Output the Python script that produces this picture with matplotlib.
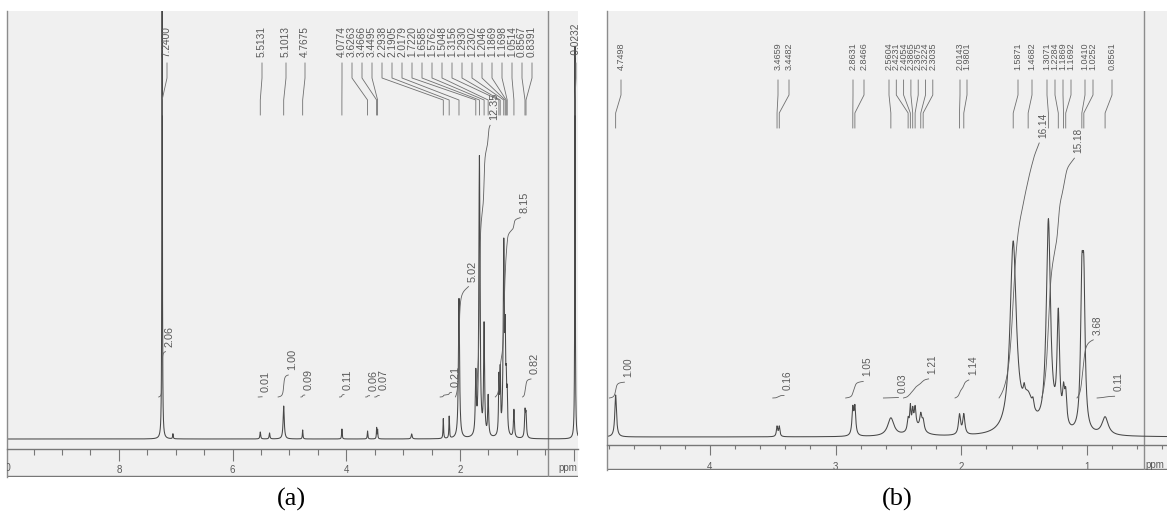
import numpy as np
import matplotlib
matplotlib.use("Agg")
import matplotlib.pyplot as plt
from matplotlib.ticker import MultipleLocator, FuncFormatter

# ---------------- data: panel (a) ----------------
a_peak_ppm = [7.2400, 7.05, 5.5131, 5.35, 5.1013, 4.7675, 4.0774, 3.6263, 3.4666, 3.4495,
              2.85, 2.2938, 2.1905, 2.0179, 1.7220, 1.6585, 1.5762, 1.5048, 1.3156, 1.2930,
              1.2302, 1.2046, 1.1869, 1.1698, 1.0514, 0.8567, 0.8391, -0.0232]
a_peak_height = [700, 5, 7, 6, 33, 9, 10, 8, 11, 9,
                 5, 20, 22, 140, 60, 280, 110, 40, 55, 60,
                 190, 80, 40, 35, 28, 25, 22, 394]
a_peak_width = [0.004, 0.006, 0.008, 0.008, 0.012, 0.006, 0.006, 0.006, 0.005, 0.005,
                0.01, 0.006, 0.006, 0.012, 0.01, 0.012, 0.01, 0.01, 0.008, 0.008,
                0.012, 0.008, 0.008, 0.008, 0.01, 0.01, 0.01, 0.005]

a_label_ppm = [7.2400, 5.5131, 5.1013, 4.7675,
               4.0774, 3.6263, 3.4666, 3.4495, 2.2938, 2.1905, 2.0179, 1.7220, 1.6585, 1.5762,
               1.5048, 1.3156, 1.2930, 1.2302, 1.2046, 1.1869, 1.1698, 1.0514, 0.8567, 0.8391,
               -0.0232]

a_int_values = [2.06, 0.01, 1.00, 0.09, 0.11, 0.06, 0.07, 0.21, 5.02, 12.35, 8.15, 0.82]
a_int_ranges = [(7.30, 7.18), (5.55, 5.48), (5.20, 5.02), (4.80, 4.73), (4.12, 4.04),
                (3.66, 3.59), (3.50, 3.42), (2.35, 2.15), (2.08, 1.85), (1.72, 1.47),
                (1.38, 0.94), (0.90, 0.75)]

a_tick_labels = [2, 4, 6, 8]

# ---------------- data: panel (b) ----------------
b_peak_ppm = [4.7498, 3.4659, 3.4482, 2.8631, 2.8466, 2.5604, 2.4231, 2.4054, 2.3865, 2.3675,
              2.3224, 2.3035, 2.36, 2.0143, 1.9801, 1.5871, 1.4682, 1.50, 1.43, 1.3071,
              1.2284, 1.1869, 1.1692, 1.0410, 1.0252, 0.8561]
b_peak_height = [42, 10, 10, 26, 27, 18, 12, 22, 17, 19,
                 15, 10, 8, 20, 20, 190, 30, 10, 8, 210,
                 110, 30, 30, 130, 130, 18]
b_peak_width = [0.008, 0.006, 0.006, 0.008, 0.008, 0.03, 0.008, 0.006, 0.007, 0.008,
                0.01, 0.01, 0.06, 0.01, 0.01, 0.03, 0.05, 0.008, 0.008, 0.02,
                0.012, 0.01, 0.01, 0.012, 0.012, 0.03]

b_label_ppm = [4.7498, 3.4659, 3.4482, 2.8631, 2.8466,
               2.5604, 2.4231, 2.4054, 2.3865, 2.3675, 2.3224, 2.3035,
               2.0143, 1.9801, 1.5871, 1.4682,
               1.3071, 1.2284, 1.1869, 1.1692, 1.0410, 1.0252, 0.8561]

b_int_values = [1.00, 0.16, 1.05, 0.03, 1.21, 1.14, 16.14, 15.18, 3.68, 0.11]
b_int_ranges = [(4.80, 4.68), (3.50, 3.41), (2.92, 2.78), (2.62, 2.50), (2.46, 2.26),
                (2.05, 1.94), (1.70, 1.38), (1.36, 1.10), (1.08, 0.95), (0.92, 0.78)]

b_tick_labels = [1, 2, 3, 4]

# ---------------- layout (pixels of the 1167x513 picture) ----------------
W, H = 1167, 513
BG = "#f0f0f0"
FRAME = "#8c8c8c"
LINE = "#484848"
TXT = "#5a5a5a"

# label x positions (px) for the peak-list lines
a_label_px = [167, 262, 286, 305] + [342 + 10.0 * i for i in range(20)] + [576]
b_label_px = ([621, 778, 789, 853, 864] + [889 + 7.3 * i for i in range(7)]
              + [960, 967, 1018, 1032, 1047, 1055, 1063, 1071, 1085, 1093, 1112])

fig = plt.figure(figsize=(W / 100, H / 100), dpi=100)


def lorentz_sum(ppm, centers, heights, widths):
    y = np.zeros_like(ppm)
    for c, h, w in zip(centers, heights, widths):
        y += h / (1.0 + ((ppm - c) / w) ** 2)
    return y


def make_panel(left, right, top, bottom, zero_px, s, axis_y, major, minor,
               tick_vals, maj_len, min_len, pad, vline_px):
    ax = fig.add_axes([left / W, 1 - bottom / H, (right - left) / W, (bottom - top) / H])
    ax.set_xlim((zero_px - left) / s, (zero_px - right) / s)
    ax.set_ylim(bottom, top)
    ax.set_facecolor(BG)
    for k in ("top", "right"):
        ax.spines[k].set_visible(False)
    ax.spines["left"].set_color(FRAME)
    ax.spines["left"].set_linewidth(1.0)
    ax.spines["bottom"].set_position(("data", axis_y))
    ax.spines["bottom"].set_color("#777777")
    ax.spines["bottom"].set_linewidth(1.0)
    ax.xaxis.set_major_locator(MultipleLocator(major))
    ax.xaxis.set_minor_locator(MultipleLocator(minor))
    ax.xaxis.set_major_formatter(FuncFormatter(
        lambda v, p: f"{v:.0f}" if round(v) in tick_vals else ""))
    ax.tick_params(axis="x", which="major", direction="out", length=maj_len, width=0.8,
                   color="#777777", labelsize=7, labelcolor=TXT, pad=pad)
    ax.tick_params(axis="x", which="minor", direction="out", length=min_len, width=0.8,
                   color="#777777")
    ax.set_yticks([])
    ax.axhline(bottom - 0.7, color="#777777", lw=1.0)
    ax.axvline((zero_px - vline_px) / s, color=FRAME, lw=1.0)
    for lab in ax.get_xticklabels():
        lab.set_family("Liberation Sans")
    return ax


def draw_spectrum(ax, base, centers, heights, widths, n):
    x0, x1 = ax.get_xlim()
    ppm = np.linspace(x0, x1, n)
    spec = lorentz_sum(ppm, centers, heights, widths)
    ax.plot(ppm, base - spec, color=LINE, lw=0.75, solid_joinstyle="round")
    return ppm, spec


def draw_peak_labels(ax, zero_px, s, label_ppm, label_px, y_text, ys, fs):
    for v, lx in zip(label_ppm, label_px):
        lp = (zero_px - lx) / s
        ax.plot([lp, lp, v, v], ys, color="#707070", lw=0.6)
        ax.text(lp, y_text, f"{v:.4f}", rotation=90, ha="center", va="bottom",
                fontsize=fs, color=TXT, family="Liberation Sans", clip_on=True)


def draw_integrals(ax, s, ppm, spec, values, ranges, y0, scale, fs):
    for val, (hi, lo) in zip(values, ranges):
        m = (ppm <= hi) & (ppm >= lo)
        xs = ppm[m]
        cum = np.cumsum(spec[m])
        cum = cum / cum[-1]
        ys = y0 - cum * val * scale
        ax.plot(xs, ys, color="#606060", lw=0.6)
        ax.text(xs[-1] - 4 / s, ys[-1] - 5, f"{val:.2f}", rotation=90, ha="center",
                va="bottom", fontsize=fs, color=TXT, family="Liberation Sans")


# ---------------- panel (a) ----------------
za, sa = 573.7, 56.85
ax_a = make_panel(7, 578, 11, 477, za, sa, 449, 2, 0.5, a_tick_labels, 8.5, 4.3, 3, 548)
ppm_a, spec_a = draw_spectrum(ax_a, 439, a_peak_ppm, a_peak_height, a_peak_width, 12000)
draw_peak_labels(ax_a, za, sa, a_label_ppm, a_label_px, 57, [63, 78, 100, 115], 7.3)
draw_integrals(ax_a, sa, ppm_a, spec_a, a_int_values, a_int_ranges, 397, 22.0, 7.8)
ax_a.text(10, 468, "10", ha="center", va="center", fontsize=7, color=TXT,
          family="Liberation Sans", clip_on=True)
ax_a.text((za - 568) / sa, 468, "ppm", ha="center", va="center", fontsize=7, color=TXT,
          family="Liberation Sans", clip_on=True)

# ---------------- panel (b) ----------------
zb, sb = 1212.7, 125.7
ax_b = make_panel(607, 1167, 11, 470, zb, sb, 445, 1, 0.2, b_tick_labels, 7.2, 2.9, 5, 1144)
ppm_b, spec_b = draw_spectrum(ax_b, 437, b_peak_ppm, b_peak_height, b_peak_width, 12000)
draw_peak_labels(ax_b, zb, sb, b_label_ppm, b_label_px, 70, [80, 95, 113, 128], 6.5)
draw_integrals(ax_b, sb, ppm_b, spec_b, b_int_values, b_int_ranges, 398, 15.8, 7.2)
ax_b.text((zb - 1155) / sb, 465, "ppm", ha="center", va="center", fontsize=7, color=TXT,
          family="Liberation Sans", clip_on=True)

# ---------------- captions ----------------
fig.text(291 / W, 1 - 506 / H, "(a)", ha="center", va="baseline", fontsize=19,
         family="Liberation Serif")
fig.text(897 / W, 1 - 506 / H, "(b)", ha="center", va="baseline", fontsize=19,
         family="Liberation Serif")

fig.savefig("out.png", dpi=100)
